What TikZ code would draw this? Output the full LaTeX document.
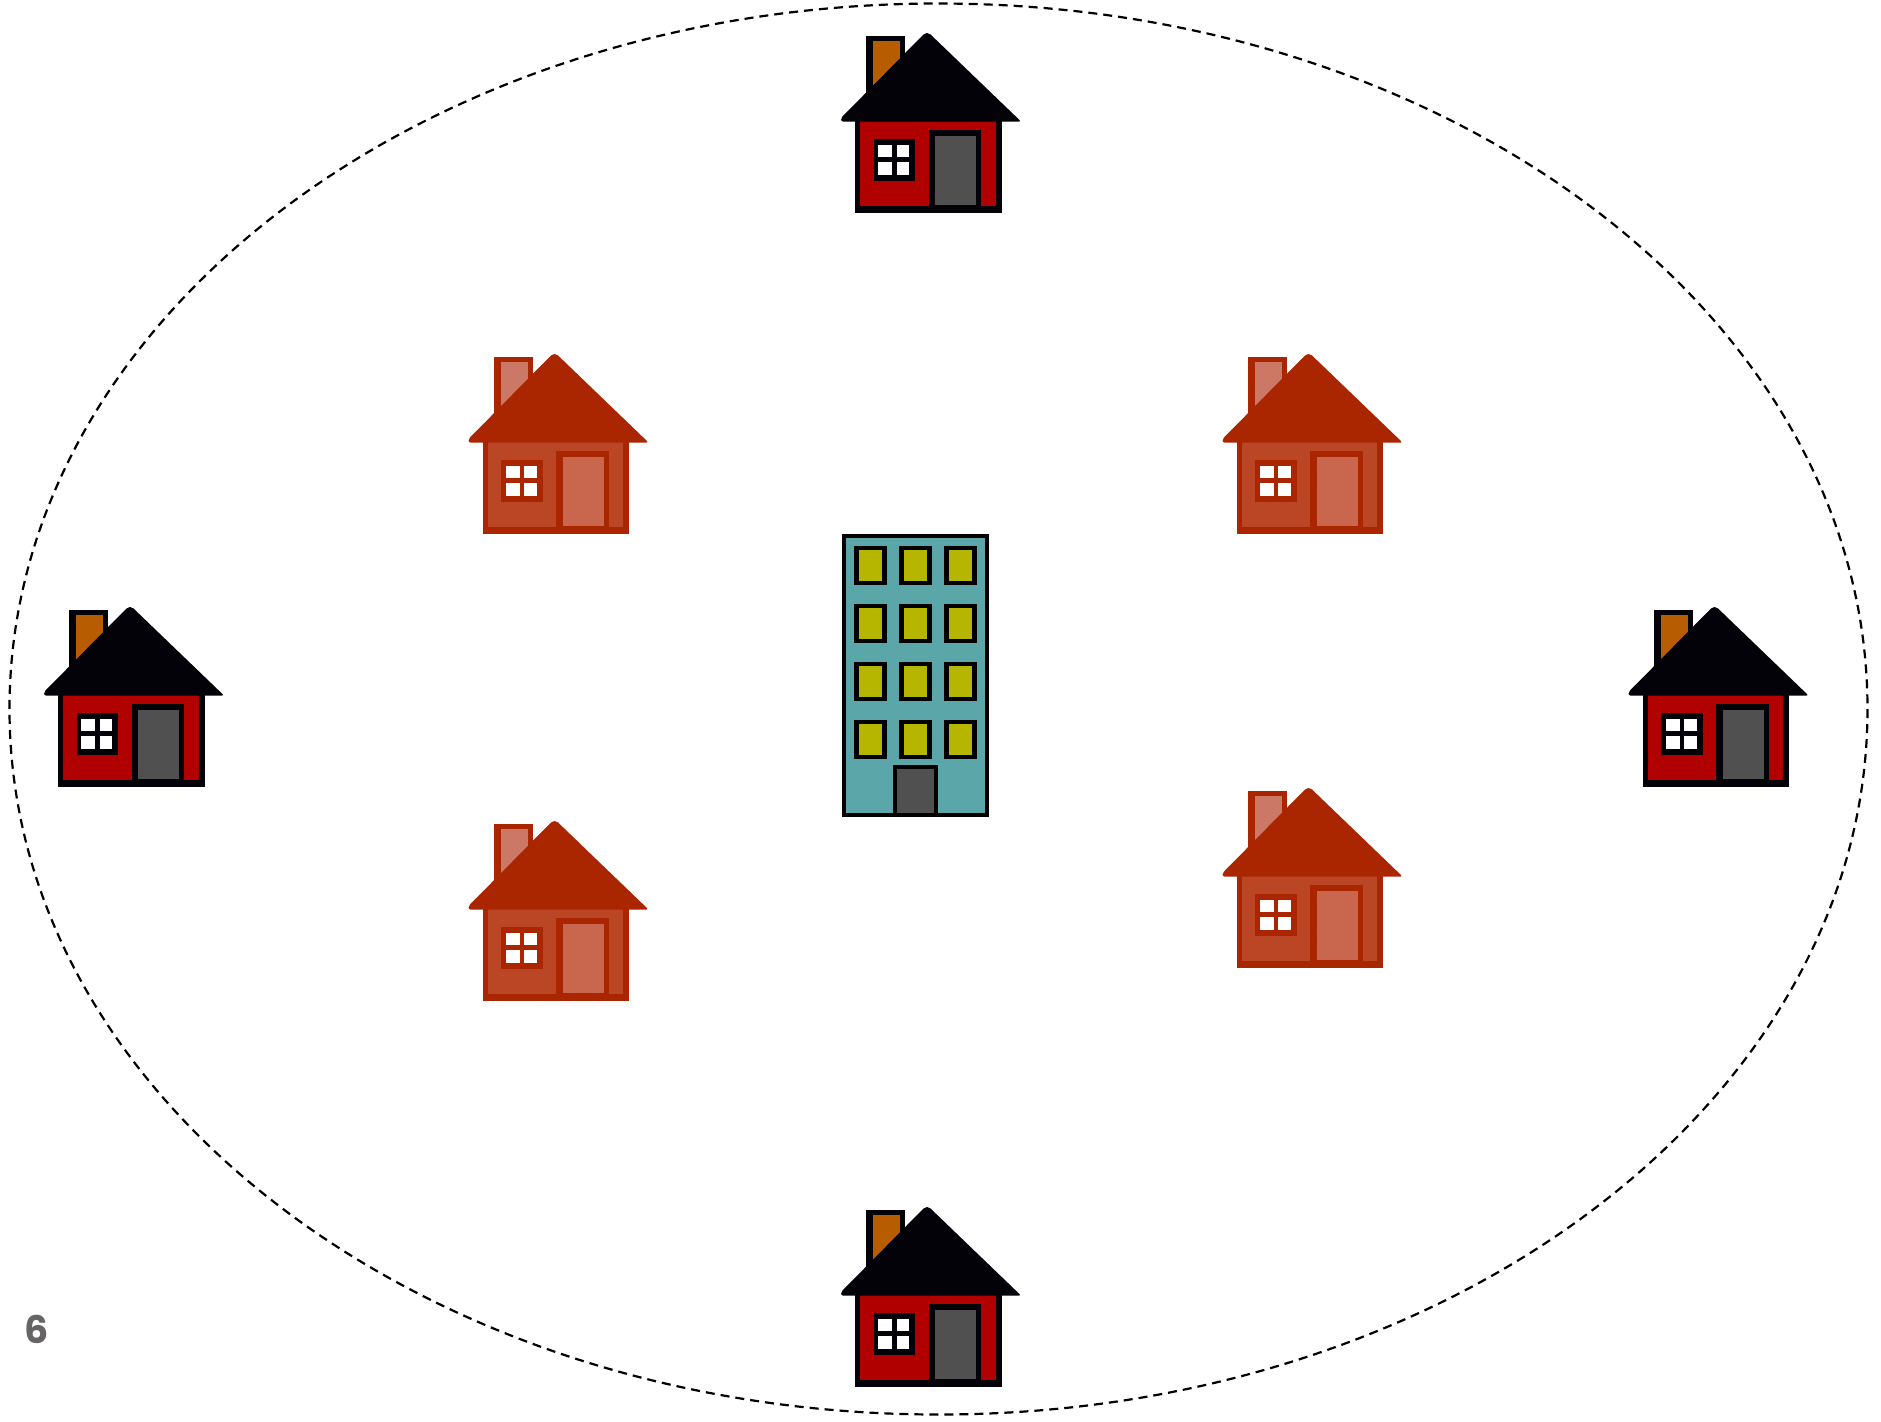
\documentclass[tikz,border=0pt]{standalone}
\usepackage{fontspec}
\setmainfont{Poppins}
\usepackage{xcolor}
\definecolor{darkroof}{RGB}{2,2,8}
\definecolor{darkwall}{RGB}{176,0,0}
\definecolor{darkdoor}{RGB}{80,80,80}
\definecolor{darkchim}{RGB}{184,92,0}
\definecolor{fadedroof}{RGB}{170,38,0}
\definecolor{fadedwall}{RGB}{187,70,38}
\definecolor{fadeddoor}{RGB}{200,102,78}
\definecolor{fadedchim}{RGB}{204,120,102}
\definecolor{towerwall}{RGB}{90,166,168}
\definecolor{towerpane}{RGB}{182,182,0}
\definecolor{labelgray}{RGB}{102,100,100}
% args: x, y of the roof apex, then roof, wall, door, chimney colours
\newcommand{\drawhouse}[6]{
  \begin{scope}[shift={(#1,#2)}]
    % Chimney
    \fill[#3] (-61,3) rectangle (-22,60);
    \fill[#6] (-54,8) rectangle (-27,55);
    % Walls
    \fill[#3] (-72,80) rectangle (74.5,180);
    \fill[#4] (-67,80) rectangle (68.5,173);
    % Roof
    \fill[#3,rounded corners=1pt] (-2,0) -- (2,0) -- (94,88.5) -- (-86,88.5) -- (-86,85) -- cycle;
    % Door
    \fill[#3] (1.5,97) rectangle (54,175);
    \fill[#5] (8,103) rectangle (49,171.5);
    % Window
    \fill[#3] (-53.5,106) rectangle (-12,148);
    \foreach \px/\qx in {-49/-34.7,-30.3/-17.7}
      \foreach \py/\qy in {112/123.5,128.7/142}
        \fill[white] (\px,\py) rectangle (\qx,\qy);
  \end{scope}
}
\begin{document}
\begin{tikzpicture}[x=0.5pt, y=-0.5pt]
  \useasboundingbox (0,0) rectangle (1881,1421);
  % Outer boundary
  \draw[dash pattern=on 4.5pt off 3pt,line width=1.1pt] (938.5,709) ellipse [x radius=929, y radius=705.5];
  % Dark houses
  \foreach \x/\y in {927/33,927/1207,130/607,1714.5/607}
    \drawhouse{\x}{\y}{darkroof}{darkwall}{darkdoor}{darkchim};
  % Faded houses
  \foreach \x/\y in {554.5/354,1308.5/354,1308.5/788,554.5/821}
    \drawhouse{\x}{\y}{fadedroof}{fadedwall}{fadeddoor}{fadedchim};
  % Tower
  \draw[line width=2pt,fill=towerwall] (844,536) rectangle (987,815);
  \foreach \x in {856.5,901.5,946.5}
    \foreach \y in {548,606,664,722}
      \draw[line width=2.25pt,fill=towerpane] (\x,\y) rectangle ++(28,35);
  \draw[line width=2pt,fill=darkdoor] (895,767) rectangle (936,815);
  % Slide number
  \node[font=\bfseries\fontsize{19}{19}\selectfont,labelgray] (pagenum) at (37,1329.5) {6};
\end{tikzpicture}
\end{document}
